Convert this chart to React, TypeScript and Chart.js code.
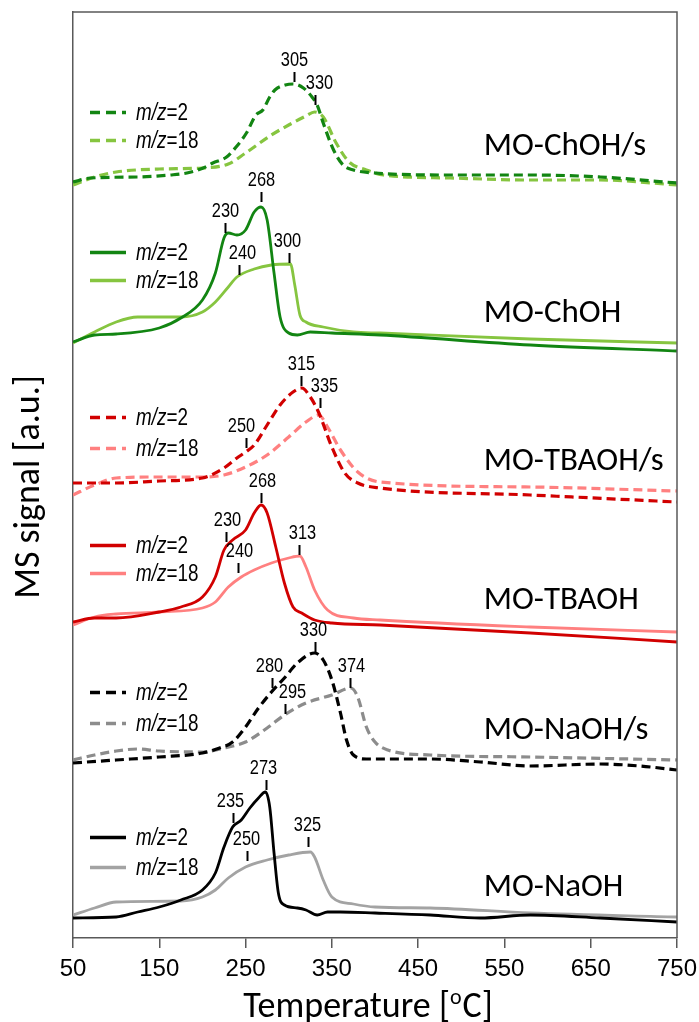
import React, { useEffect, useRef } from "react";
import { Chart, registerables } from "chart.js";

Chart.register(...registerables);

// ---------------- data ----------------
const X_TICKS = [50, 150, 250, 350, 450, 550, 650, 750];

// MO-ChOH/s
const chohS_m2_T = [50, 70, 125, 163, 182, 201, 212, 228, 239, 251, 262, 270, 278, 284, 296, 305, 317, 327, 333, 340, 352, 363, 375, 400, 487, 580, 661, 750];
const chohS_m2_V = [75.6, 76.0, 76.1, 76.3, 76.5, 77.0, 77.5, 78.1, 79.1, 80.5, 82.3, 82.8, 84.1, 84.8, 85.3, 85.4, 85.0, 84.1, 83.3, 81.5, 78.8, 77.3, 76.8, 76.5, 76.3, 76.3, 76.1, 75.5];
const chohS_m18_T = [50, 75, 100, 150, 200, 230, 250, 280, 300, 320, 330, 340, 355, 370, 390, 410, 487, 580, 661, 750];
const chohS_m18_V = [75.3, 76.1, 76.6, 76.9, 77.0, 77.4, 78.5, 80.3, 81.3, 82.2, 82.6, 82.1, 79.5, 77.6, 76.8, 76.3, 76.0, 75.8, 75.8, 75.3];

// MO-ChOH
const choh_m2_T = [50, 75, 100, 150, 175, 200, 215, 225, 230, 240, 250, 260, 268, 275, 283, 290, 300, 310, 325, 350, 406, 580, 750];
const choh_m2_V = [59.6, 60.3, 60.4, 61.0, 62.0, 63.8, 66.5, 70.0, 70.5, 70.3, 70.8, 72.6, 73.1, 71.8, 66.5, 62.1, 60.5, 60.3, 60.6, 60.5, 60.3, 59.3, 58.7];
const choh_m18_T = [50, 75, 100, 125, 175, 200, 215, 230, 240, 260, 280, 302, 307, 313, 320, 340, 375, 406, 580, 750];
const choh_m18_V = [59.5, 60.6, 61.6, 62.1, 62.1, 62.6, 63.6, 65.1, 66.1, 66.9, 67.3, 67.4, 65.3, 62.3, 61.6, 61.1, 60.6, 60.5, 59.9, 59.5];

// MO-TBAOH/s
const tbaS_m2_T = [50, 100, 150, 200, 225, 240, 250, 260, 275, 290, 305, 315, 325, 335, 350, 365, 380, 406, 580, 750];
const tbaS_m2_V = [45.5, 45.5, 45.7, 46.0, 47.0, 48.0, 48.6, 49.3, 51.3, 53.3, 54.6, 55.0, 54.1, 52.5, 49.1, 46.5, 45.5, 45.0, 44.3, 43.6];
const tbaS_m18_T = [50, 75, 100, 150, 200, 225, 250, 275, 300, 320, 335, 345, 360, 380, 406, 580, 750];
const tbaS_m18_V = [44.3, 45.3, 46.0, 46.1, 46.1, 46.3, 47.1, 48.3, 50.1, 51.6, 52.3, 51.1, 48.8, 46.6, 45.6, 45.1, 44.7];

// MO-TBAOH
const tba_m2_T = [50, 75, 100, 150, 175, 200, 215, 225, 235, 250, 260, 268, 275, 285, 295, 305, 315, 330, 350, 406, 580, 750];
const tba_m2_V = [31.6, 32.0, 32.0, 32.6, 33.1, 34.1, 36.1, 38.8, 39.8, 40.8, 42.5, 43.3, 42.5, 39.1, 35.5, 33.1, 32.5, 31.8, 31.5, 31.3, 30.5, 29.6];
const tba_m18_T = [50, 75, 100, 150, 200, 215, 230, 245, 260, 280, 300, 313, 320, 330, 345, 375, 406, 580, 750];
const tba_m18_V = [31.3, 32.1, 32.4, 32.6, 33.0, 33.6, 35.1, 36.1, 36.8, 37.5, 38.0, 38.2, 37.1, 34.8, 32.8, 32.0, 31.8, 31.1, 30.6];

// MO-NaOH/s
const naS_m2_T = [50, 100, 150, 200, 220, 235, 250, 265, 280, 295, 310, 330, 340, 350, 360, 367, 375, 390, 464, 522, 580, 661, 707, 750];
const naS_m2_V = [17.5, 17.8, 18.1, 18.5, 19.0, 19.6, 21.1, 23.0, 24.6, 26.0, 27.5, 28.5, 27.8, 25.8, 22.5, 19.8, 18.3, 17.9, 17.9, 17.6, 17.2, 17.4, 17.2, 16.8];
const naS_m18_T = [50, 75, 100, 125, 150, 200, 225, 250, 275, 295, 320, 350, 372, 380, 390, 400, 415, 464, 580, 750];
const naS_m18_V = [17.8, 18.3, 18.7, 18.9, 18.7, 18.6, 19.0, 19.6, 21.0, 22.3, 23.5, 24.3, 25.0, 24.1, 21.1, 19.6, 18.8, 18.3, 18.1, 17.8];

// MO-NaOH
const na_m2_T = [50, 100, 125, 150, 175, 200, 215, 225, 235, 245, 255, 265, 273, 278, 283, 288, 295, 310, 320, 333, 345, 360, 400, 464, 522, 580, 661, 750];
const na_m2_V = [2.0, 2.1, 2.6, 3.1, 3.8, 4.8, 6.5, 9.1, 11.1, 11.8, 13.0, 14.0, 14.6, 13.1, 8.5, 4.5, 3.3, 3.0, 2.8, 2.3, 2.6, 2.6, 2.5, 2.3, 2.0, 2.3, 2.0, 1.6];
const na_m18_T = [50, 75, 100, 175, 200, 215, 230, 250, 275, 300, 325, 330, 340, 350, 375, 400, 464, 580, 750];
const na_m18_V = [2.3, 3.0, 3.6, 3.7, 4.1, 4.8, 6.0, 7.1, 7.8, 8.3, 8.6, 8.1, 5.8, 4.1, 3.4, 3.1, 3.0, 2.5, 2.1];

// panel names and their levels
const PANEL_NAMES = ["MO-ChOH/s", "MO-ChOH", "MO-TBAOH/s", "MO-TBAOH", "MO-NaOH/s", "MO-NaOH"];
const PANEL_LEVELS = [79.1, 62.4, 47.6, 33.7, 20.7, 5.0];
const PANEL_LABEL_T = 526;

// legend row levels for each panel: [m/z=2, m/z=18]
const LEGEND_LEVELS = [
  [82.6, 79.8],
  [68.6, 65.8],
  [52.1, 49.0],
  [39.3, 36.5],
  [24.6, 21.5],
  [10.1, 7.1],
];

// peak marks: [label, temperature, level, label shift]
const PEAKS: [string, number, number, number][] = [
  ["305", 306, 85.6, 0], ["330", 330, 83.3, 4],
  ["268", 268, 73.6, 0], ["230", 226, 70.5, 0], ["240", 242, 66.3, 3], ["300", 300, 67.5, -2],
  ["315", 314, 55.2, 0], ["335", 336, 53.0, 4], ["250", 250, 49.0, -5],
  ["268", 268, 43.5, 1], ["230", 227, 39.6, 1], ["240", 241, 36.5, 1], ["313", 312, 38.3, 3],
  ["330", 330, 28.6, -2], ["280", 281, 25.0, -3], ["295", 296, 22.4, 7], ["374", 371, 25.0, 1],
  ["273", 274, 14.8, -3], ["235", 235, 11.5, -3], ["250", 252, 7.7, -1], ["325", 322, 9.1, -1],
];

// ---------------- styles ----------------
const DARK_GREEN = "#128512";
const LIGHT_GREEN = "#86c540";
const DARK_RED = "#d10000";
const LIGHT_RED = "#ff8080";
const BLACK = "#000000";
const GRAY_DASH = "#8c8c8c";
const GRAY_SOLID = "#a3a3a3";

const ARIAL = "'Liberation Sans', Arial, sans-serif";
const HUMANIST = "Carlito, Lato, 'Open Sans', sans-serif";
const NARROW_SCALE = 0.82;

type Series = { name: string; t: number[]; v: number[]; color: string; dashed: boolean; panel: number; row: number };

const SERIES: Series[] = [
  { name: "MO-ChOH/s m/z=2", t: chohS_m2_T, v: chohS_m2_V, color: DARK_GREEN, dashed: true, panel: 0, row: 0 },
  { name: "MO-ChOH/s m/z=18", t: chohS_m18_T, v: chohS_m18_V, color: LIGHT_GREEN, dashed: true, panel: 0, row: 1 },
  { name: "MO-ChOH m/z=2", t: choh_m2_T, v: choh_m2_V, color: DARK_GREEN, dashed: false, panel: 1, row: 0 },
  { name: "MO-ChOH m/z=18", t: choh_m18_T, v: choh_m18_V, color: LIGHT_GREEN, dashed: false, panel: 1, row: 1 },
  { name: "MO-TBAOH/s m/z=2", t: tbaS_m2_T, v: tbaS_m2_V, color: DARK_RED, dashed: true, panel: 2, row: 0 },
  { name: "MO-TBAOH/s m/z=18", t: tbaS_m18_T, v: tbaS_m18_V, color: LIGHT_RED, dashed: true, panel: 2, row: 1 },
  { name: "MO-TBAOH m/z=2", t: tba_m2_T, v: tba_m2_V, color: DARK_RED, dashed: false, panel: 3, row: 0 },
  { name: "MO-TBAOH m/z=18", t: tba_m18_T, v: tba_m18_V, color: LIGHT_RED, dashed: false, panel: 3, row: 1 },
  { name: "MO-NaOH/s m/z=2", t: naS_m2_T, v: naS_m2_V, color: BLACK, dashed: true, panel: 4, row: 0 },
  { name: "MO-NaOH/s m/z=18", t: naS_m18_T, v: naS_m18_V, color: GRAY_DASH, dashed: true, panel: 4, row: 1 },
  { name: "MO-NaOH m/z=2", t: na_m2_T, v: na_m2_V, color: BLACK, dashed: false, panel: 5, row: 0 },
  { name: "MO-NaOH m/z=18", t: na_m18_T, v: na_m18_V, color: GRAY_SOLID, dashed: false, panel: 5, row: 1 },
];

const DASH = [9, 5];

function narrowText(ctx: CanvasRenderingContext2D, text: string, x: number, y: number, align: CanvasTextAlign) {
  ctx.save();
  ctx.translate(x, y);
  ctx.scale(NARROW_SCALE, 1);
  ctx.textAlign = align;
  ctx.fillText(text, 0, 0);
  ctx.restore();
}

const decorPlugin = {
  id: "decor",
  afterDatasetsDraw(chart: any) {
    const { ctx, chartArea, scales } = chart;
    const x = scales.x;
    const y = scales.y;
    ctx.save();

    // frame (top and right sides)
    ctx.strokeStyle = "#595959";
    ctx.lineWidth = 1.5;
    ctx.beginPath();
    ctx.moveTo(chartArea.left, chartArea.top);
    ctx.lineTo(chartArea.right, chartArea.top);
    ctx.lineTo(chartArea.right, chartArea.bottom);
    ctx.stroke();

    // peak marks
    ctx.fillStyle = "#000";
    ctx.strokeStyle = "#000";
    ctx.lineWidth = 2;
    ctx.font = `20px ${ARIAL}`;
    ctx.textBaseline = "alphabetic";
    for (const [label, t, lvl, dx] of PEAKS) {
      const px = Math.round(x.getPixelForValue(t)) + 0.5;
      const py = y.getPixelForValue(lvl);
      ctx.beginPath();
      ctx.moveTo(px, py);
      ctx.lineTo(px, py - 10);
      ctx.stroke();
      narrowText(ctx, label, px + dx, py - 16, "center");
    }

    // legends
    const lx0 = chartArea.left + 17;
    const lx1 = chartArea.left + 53;
    const tx = chartArea.left + 63;
    for (const s of SERIES) {
      const ly = Math.round(y.getPixelForValue(LEGEND_LEVELS[s.panel][s.row])) + 0.5;
      ctx.strokeStyle = s.color;
      ctx.lineWidth = 3.5;
      ctx.setLineDash(s.dashed ? [10, 6] : []);
      ctx.beginPath();
      ctx.moveTo(lx0, ly);
      ctx.lineTo(lx1, ly);
      ctx.stroke();
      ctx.setLineDash([]);
      ctx.textBaseline = "middle";
      ctx.fillStyle = "#000";
      ctx.font = `italic 23px ${ARIAL}`;
      narrowText(ctx, "m/z", tx, ly + 1, "left");
      const w = ctx.measureText("m/z").width * NARROW_SCALE;
      ctx.font = `23px ${ARIAL}`;
      narrowText(ctx, s.row === 0 ? "=2" : "=18", tx + w, ly + 1, "left");
    }

    // panel names
    ctx.font = `33px ${HUMANIST}`;
    ctx.textAlign = "left";
    ctx.textBaseline = "middle";
    ctx.fillStyle = "#000";
    PANEL_NAMES.forEach((n, i) => {
      ctx.fillText(n, x.getPixelForValue(PANEL_LABEL_T), y.getPixelForValue(PANEL_LEVELS[i]));
    });

    // y title
    ctx.save();
    ctx.translate(30, (chartArea.top + chartArea.bottom) / 2 + 12);
    ctx.rotate(-Math.PI / 2);
    ctx.font = `36px ${HUMANIST}`;
    ctx.textAlign = "center";
    ctx.textBaseline = "middle";
    ctx.fillText("MS signal [a.u.]", 0, 0);
    ctx.restore();

    // x title with superscript o
    const big = `36px ${HUMANIST}`;
    const small = `22px ${HUMANIST}`;
    ctx.textBaseline = "alphabetic";
    ctx.textAlign = "left";
    ctx.font = big;
    const p1 = "Temperature [";
    const p2 = "C]";
    const w1 = ctx.measureText(p1).width;
    const w2 = ctx.measureText(p2).width;
    ctx.font = small;
    const ws = ctx.measureText("o").width + 1;
    const total = w1 + ws + w2;
    const cx = (chartArea.left + chartArea.right) / 2 - 7;
    const by = 1017;
    let sx = cx - total / 2;
    ctx.font = big;
    ctx.fillText(p1, sx, by);
    sx += w1;
    ctx.font = small;
    ctx.fillText("o", sx, by - 13);
    sx += ws;
    ctx.font = big;
    ctx.fillText(p2, sx, by);

    ctx.restore();
  },
};

export default function App() {
  const ref = useRef<HTMLCanvasElement>(null);

  useEffect(() => {
    document.body.style.margin = "0";
    const canvas = ref.current;
    if (!canvas) return;
    const chart = new Chart(canvas, {
      type: "line",
      data: {
        datasets: SERIES.map((s) => ({
          label: s.name,
          data: s.t.map((t, i) => ({ x: t, y: s.v[i] })),
          borderColor: s.color,
          backgroundColor: s.color,
          borderWidth: s.dashed ? 3.2 : 2.8,
          borderDash: s.dashed ? DASH : [],
          pointRadius: 0,
          fill: false,
          cubicInterpolationMode: "monotone" as const,
        })),
      },
      options: {
        responsive: false,
        animation: false,
        events: [],
        layout: { padding: { top: 12, right: 22, left: 0, bottom: 0 } },
        plugins: { legend: { display: false }, tooltip: { enabled: false }, title: { display: false } },
        scales: {
          x: {
            type: "linear",
            min: 50,
            max: 750,
            afterBuildTicks: (s: any) => {
              s.ticks = X_TICKS.map((v) => ({ value: v }));
            },
            afterFit: (s: any) => {
              s.height = 84;
              s.paddingLeft = 0;
              s.paddingRight = 0;
            },
            grid: { drawOnChartArea: false, drawTicks: true, tickLength: 10, color: "#595959", lineWidth: 1.5 },
            border: { display: true, color: "#595959", width: 1.5 },
            ticks: {
              autoSkip: false,
              maxRotation: 0,
              color: "#000",
              padding: 7,
              font: { family: ARIAL, size: 24 },
            },
          },
          y: {
            type: "linear",
            min: 0,
            max: 92.6,
            afterFit: (s: any) => {
              s.width = 73;
              s.paddingTop = 0;
              s.paddingBottom = 0;
            },
            grid: { display: false },
            border: { display: true, color: "#595959", width: 1.5 },
            ticks: { display: false },
          },
        },
      },
      plugins: [decorPlugin],
    });
    return () => chart.destroy();
  }, []);

  return <canvas ref={ref} width={699} height={1022} style={{ display: "block" }} />;
}
